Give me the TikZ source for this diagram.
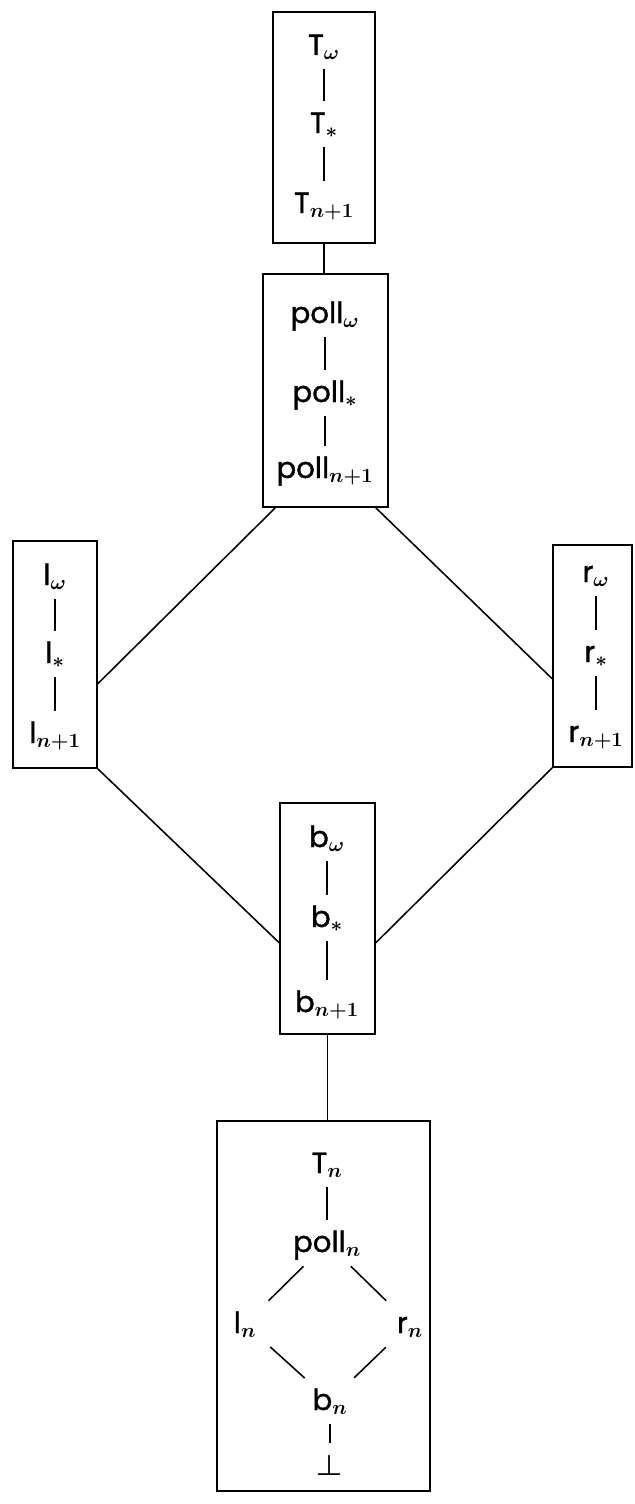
\documentclass[tikz,border=0pt]{standalone}
\usepackage{amsmath}
\usepackage{fontspec}
\setmainfont{Poppins}
\newfontfamily\diagfont{Poppins}[FakeBold=1.2]
\usepackage{tikz}

\begin{document}
\begin{tikzpicture}[x=0.025cm, y=-0.025cm,
		box/.style={draw, line width=1.1pt, inner sep=0pt},
		elem/.style={inner xsep=0pt, inner ysep=0.3cm, text height=0.5cm, text depth=0.05cm, minimum width=1.25cm, font=\diagfont\huge\boldmath},
		bar/.style={line width=1.1pt}]
				\useasboundingbox (0,0) rectangle (634,1504);
				\node[box, minimum width=2.55cm, minimum height=5.775cm] (tbox) at (324, 127.5) {};
				\node[box, minimum width=3.125cm, minimum height=5.825cm] (pbox) at (325.5, 390.5) {};
				\node[box, minimum width=2.1cm, minimum height=5.675cm] (lbox) at (55, 654.5) {};
				\node[box, minimum width=1.975cm, minimum height=5.55cm] (rbox) at (592.5, 656) {};
				\node[box, minimum width=2.375cm, minimum height=5.775cm] (bbox) at (327.5, 918.5) {};
				\node[box, minimum width=5.325cm, minimum height=9.25cm] (base) at (323.5, 1306) {};
				\draw[bar] (tbox.south) -- (tbox.south |- pbox.north);
				\draw[bar] ([xshift=0.325cm]pbox.south west) -- ([yshift=2.125cm]lbox.south east);
				\draw[bar] ([xshift=-0.325cm]pbox.south east) -- ([yshift=2.225cm]rbox.south west);
				\draw[bar] (lbox.south east) -- ([yshift=2.3cm]bbox.south west);
				\draw[bar] (rbox.south west) -- ([yshift=2.3cm]bbox.south east);
				\draw[bar] (bbox.south) -- (bbox.south |- base.north);
				\node[elem] (Tw) at (324, 46) {T$_\omega$};
				\node[elem] (Ts) at (324, 124) {T$_*$};
				\node[elem] (Tn1) at (324, 204) {T$_{n+1}$};
				\draw[bar] (Tw) -- (Ts);
				\draw[bar] (Ts) -- (Tn1);
				\node[elem] (pollw) at (325, 314) {poll$_\omega$};
				\node[elem] (polls) at (325, 393) {poll$_*$};
				\node[elem] (polln1) at (325, 469) {poll$_{n+1}$};
				\draw[bar] (pollw) -- (polls);
				\draw[bar] (polls) -- (polln1);
				\node[elem] (lw) at (55, 576) {l$_\omega$};
				\node[elem] (ls) at (55, 654) {l$_*$};
				\node[elem] (ln1) at (55, 734) {l$_{n+1}$};
				\draw[bar] (lw) -- (ls);
				\draw[bar] (ls) -- (ln1);
				\node[elem] (rw) at (596, 573) {r$_\omega$};
				\node[elem] (rs) at (596, 653) {r$_*$};
				\node[elem] (rn1) at (596, 733) {r$_{n+1}$};
				\draw[bar] (rw) -- (rs);
				\draw[bar] (rs) -- (rn1);
				\node[elem] (bw) at (327, 838) {b$_\omega$};
				\node[elem] (bs) at (327, 918) {b$_*$};
				\node[elem] (bn1) at (327, 1003) {b$_{n+1}$};
				\draw[bar] (bw) -- (bs);
				\draw[bar] (bs) -- (bn1);
				\node[elem] (Tn) at (327, 1164) {T$_n$};
				\node[elem] (polln) at (327, 1243) {poll$_n$};
				\node[elem] (ln) at (245, 1324) {l$_n$};
				\node[elem] (rn) at (410, 1324) {r$_n$};
				\node[elem] (bn) at (330, 1401) {b$_n$};
				\node[elem] (bottom) at (330, 1466) {$\bot$};
				\draw[bar] (Tn) -- (polln);
				\draw[bar] (polln) -- (ln);
				\draw[bar] (polln) -- (rn);
				\draw[bar] (ln) -- (bn);
				\draw[bar] (rn) -- (bn);
				\draw[bar] (bn) -- (bottom);
			\end{tikzpicture}
\end{document}
